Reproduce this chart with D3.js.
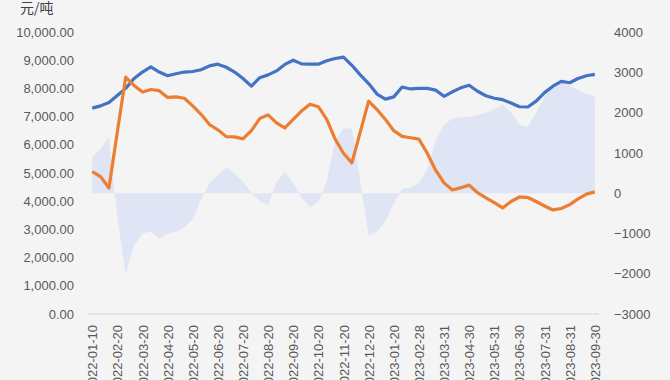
<!DOCTYPE html>
<html><head><meta charset="utf-8">
<script src="https://cdn.jsdelivr.net/npm/d3@7/dist/d3.min.js"></script>
<style>
html,body{margin:0;padding:0;background:#f4f4f4;}
svg{display:block;font-family:"Liberation Sans","DejaVu Sans",sans-serif;}
</style></head>
<body><svg id="c" width="670" height="380"></svg>
<script>
const dates = ["2022-01-10","2022-01-20","2022-02-10","2022-02-20","2022-02-28","2022-03-10","2022-03-20","2022-03-31","2022-04-10","2022-04-20","2022-04-30","2022-05-10","2022-05-20","2022-05-31","2022-06-10","2022-06-20","2022-06-30","2022-07-10","2022-07-20","2022-07-31","2022-08-10","2022-08-20","2022-08-31","2022-09-10","2022-09-20","2022-09-30","2022-10-10","2022-10-20","2022-10-31","2022-11-10","2022-11-20","2022-11-30","2022-12-10","2022-12-20","2022-12-31","2023-01-10","2023-01-20","2023-02-10","2023-02-20","2023-02-28","2023-03-10","2023-03-20","2023-03-31","2023-04-10","2023-04-20","2023-04-30","2023-05-10","2023-05-20","2023-05-31","2023-06-10","2023-06-20","2023-06-30","2023-07-10","2023-07-20","2023-07-31","2023-08-10","2023-08-20","2023-08-31","2023-09-10","2023-09-20","2023-09-30"];
const blueSeries = [7300,7380,7500,7750,8000,8350,8580,8760,8580,8450,8520,8580,8600,8660,8800,8860,8750,8580,8350,8080,8380,8480,8620,8850,9000,8870,8860,8860,8980,9060,9110,8820,8480,8170,7800,7620,7700,8050,7980,8000,8000,7940,7720,7880,8020,8110,7900,7740,7650,7600,7480,7350,7340,7550,7850,8080,8250,8200,8350,8450,8500];
const orangeSeries = [5050,4870,4470,6450,8400,8100,7870,7960,7920,7680,7700,7650,7380,7080,6720,6530,6290,6280,6210,6500,6930,7060,6780,6600,6900,7200,7440,7350,6900,6200,5700,5360,6450,7550,7250,6900,6500,6300,6250,6200,5700,5100,4650,4400,4480,4570,4300,4120,3950,3760,3990,4150,4130,3990,3830,3690,3740,3880,4080,4250,4330];
const areaSeries = [900,1100,1400,-600,-2000,-1300,-1000,-950,-1120,-1000,-960,-850,-650,-150,250,450,640,480,280,20,-200,-300,280,520,250,-120,-350,-220,300,1300,1600,1620,300,-1050,-950,-700,-250,110,140,250,600,1300,1700,1860,1880,1890,1940,1990,2080,2200,2000,1700,1650,2000,2400,2620,2750,2680,2550,2460,2390];
const leftTicks = [0,1000,2000,3000,4000,5000,6000,7000,8000,9000,10000];
const rightTicks = [-3000,-2000,-1000,0,1000,2000,3000,4000];
const xTickLabels = dates.filter((d,i)=>i%3===0);
const unitLabel = "元/吨";

const svg = d3.select("#c");
const x = d3.scalePoint().domain(dates).range([88,599]).padding(0.5);
const yL = d3.scaleLinear().domain([0,10000]).range([314,32]);
const yR = d3.scaleLinear().domain([-3000,4000]).range([314,32]);

// area (right axis)
svg.append("path").datum(areaSeries)
  .attr("fill","#dfe5f5")
  .attr("d", d3.area().x((d,i)=>x(dates[i])).y0(yR(0)).y1(d=>yR(d)));

// baseline
svg.append("line").attr("x1",88).attr("x2",599).attr("y1",yL(0)).attr("y2",yL(0))
  .attr("stroke","#d0d0d0").attr("stroke-width",1.5).attr("stroke-dasharray","1.5,1");

// lines
const line = d3.line().x((d,i)=>x(dates[i])).y(d=>yL(d));
svg.append("path").datum(blueSeries).attr("fill","none").attr("stroke","#4472c4")
  .attr("stroke-width",3.2).attr("stroke-linejoin","round").attr("d",line);
svg.append("path").datum(orangeSeries).attr("fill","none").attr("stroke","#ed7d31")
  .attr("stroke-width",3.2).attr("stroke-linejoin","round").attr("d",line);

// left axis
const gL = svg.append("g").attr("transform","translate(74,0)")
  .call(d3.axisLeft(yL).tickValues(leftTicks).tickFormat(d3.format(",.2f")).tickSize(0).tickPadding(0));
gL.select(".domain").remove();
gL.selectAll("text").attr("font-size",13).attr("fill","#595959").attr("font-family","Liberation Sans, sans-serif");

// right axis
const gR = svg.append("g").attr("transform","translate(614,0)")
  .call(d3.axisRight(yR).tickValues(rightTicks).tickFormat(d3.format("d")).tickSize(0).tickPadding(0));
gR.select(".domain").remove();
gR.selectAll("text").attr("font-size",13).attr("fill","#595959").attr("font-family","Liberation Sans, sans-serif");

// x axis
const gX = svg.append("g").attr("transform","translate(0,325)")
  .call(d3.axisBottom(x).tickValues(xTickLabels).tickSize(0).tickPadding(0));
gX.select(".domain").remove();
gX.selectAll(".tick text").attr("font-size",13).attr("fill","#595959")
  .attr("transform","rotate(-90)").attr("text-anchor","end")
  .attr("x",0).attr("y",0).attr("dx",0).attr("dy","0.35em");

svg.append("text").attr("x",20).attr("y",13).attr("font-size",14).attr("fill","#404040")
  .attr("font-family","Noto Sans CJK SC, sans-serif").text(unitLabel);
</script></body></html>
